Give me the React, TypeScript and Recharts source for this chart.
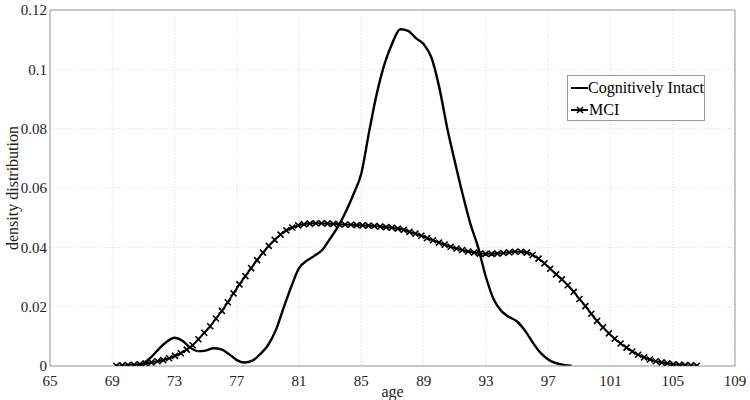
import {
  LineChart,
  Line,
  XAxis,
  YAxis,
  CartesianGrid,
  ReferenceLine,
} from "recharts";

const FONT = '"Liberation Serif", "Times New Roman", serif';

const X_TICKS = [65, 69, 73, 77, 81, 85, 89, 93, 97, 101, 105, 109];
const Y_TICKS = [0, 0.02, 0.04, 0.06, 0.08, 0.1, 0.12];

// Cognitively Intact density (solid line)
const intactAge = [
  70.5, 71, 71.5, 72, 72.5, 73, 73.5, 74, 74.5, 75, 75.5, 76, 76.5, 77, 77.5,
  78, 78.5, 79, 79.5, 80, 80.5, 81, 81.5, 82, 82.5, 83, 83.5, 84, 84.5, 85,
  85.5, 86, 86.5, 87, 87.5, 88, 88.5, 89, 89.5, 90, 90.5, 91, 91.5, 92, 92.5,
  93, 93.5, 94, 94.5, 95, 95.5, 96, 96.5, 97, 97.5, 98, 98.5,
];
const intactDensity = [
  0, 0.001, 0.003, 0.0058, 0.0082, 0.0095, 0.0085, 0.0062, 0.005, 0.0052,
  0.006, 0.0056, 0.004, 0.002, 0.0012, 0.0018, 0.004, 0.007, 0.012, 0.0195,
  0.0268, 0.033, 0.0355, 0.0372, 0.0392, 0.043, 0.047, 0.052, 0.058, 0.065,
  0.079, 0.092, 0.102, 0.109, 0.1135, 0.113, 0.1105, 0.1085, 0.104, 0.094,
  0.0806, 0.069, 0.058, 0.048, 0.04, 0.03, 0.0225, 0.0185, 0.0165, 0.015,
  0.012, 0.008, 0.0045, 0.0022, 0.001, 0.0004, 0.0001,
];

// MCI density (line with x markers)
const mciAge = [
  69.26, 69.64, 70.01, 70.39, 70.77, 71.14, 71.52, 71.9, 72.27, 72.65, 73.03,
  73.4, 73.78, 74.16, 74.53, 74.91, 75.29, 75.66, 76.04, 76.42, 76.79, 77.17,
  77.55, 77.92, 78.3, 78.68, 79.05, 79.43, 79.81, 80.18, 80.56, 80.94, 81.31,
  81.69, 82.07, 82.44, 82.82, 83.2, 83.57, 83.95, 84.33, 84.7, 85.08, 85.46,
  85.83, 86.21, 86.59, 86.96, 87.34, 87.72, 88.09, 88.47, 88.85, 89.22, 89.6,
  89.98, 90.35, 90.73, 91.11, 91.48, 91.86, 92.24, 92.61, 92.99, 93.37, 93.74,
  94.12, 94.5, 94.87, 95.25, 95.63, 96.0, 96.38, 96.76, 97.13, 97.51, 97.88,
  98.26, 98.64, 99.01, 99.39, 99.77, 100.14, 100.52, 100.9, 101.27, 101.65,
  102.03, 102.4, 102.78, 103.16, 103.53, 103.91, 104.29, 104.66, 105.04,
  105.42, 105.79, 106.17, 106.55,
];
const mciDensity = [
  0.0001, 0.0002, 0.0003, 0.0004, 0.0006, 0.0009, 0.0012, 0.0016, 0.002,
  0.0026, 0.0034, 0.0043, 0.0055, 0.007, 0.009, 0.0112, 0.0134, 0.016, 0.0186,
  0.0215, 0.0245, 0.0275, 0.0303, 0.033, 0.0357, 0.0382, 0.0405, 0.0425,
  0.0443, 0.0457, 0.0467, 0.0474, 0.0478, 0.048, 0.0481, 0.0481, 0.048, 0.0479,
  0.0478, 0.0477, 0.0476, 0.0475, 0.0474, 0.0473, 0.0472, 0.047, 0.0468,
  0.0466, 0.0463, 0.0459, 0.0452, 0.0446, 0.0439, 0.0431, 0.0424, 0.0416,
  0.0409, 0.0402, 0.0396, 0.0391, 0.0386, 0.0382, 0.0379, 0.0378, 0.0378,
  0.0379, 0.0381, 0.0383, 0.0385, 0.0385, 0.0382, 0.0374, 0.0362, 0.0346,
  0.0328, 0.0309, 0.0292, 0.0272, 0.025, 0.0226, 0.0202, 0.0176, 0.0152,
  0.013, 0.011, 0.0092, 0.0076, 0.0062, 0.0049, 0.0038, 0.0029, 0.0022,
  0.0016, 0.0012, 0.0009, 0.0006, 0.0004, 0.0003, 0.0002, 0.0001,
];

const intactData = intactAge.map((x, i) => ({ x, y: intactDensity[i] }));
const mciData = mciAge.map((x, i) => ({ x, y: mciDensity[i] }));

const XMarker = (props: any) => {
  const { cx, cy, index } = props;
  if (cx == null || cy == null) return <g key={`m-${index}`} />;
  const s = 3;
  return (
    <path
      key={`m-${index}`}
      d={`M${cx - s},${cy - s}L${cx + s},${cy + s}M${cx - s},${cy + s}L${cx + s},${cy - s}`}
      stroke="#000"
      strokeWidth={1.6}
      fill="none"
    />
  );
};

const LegendBox = () => (
  <div
    style={{
      position: "absolute",
      left: 567,
      top: 75,
      border: "1px solid #999",
      background: "#fff",
      width: 138,
      height: 46,
      fontFamily: FONT,
      fontSize: 16,
      color: "#000",
      boxSizing: "border-box",
      lineHeight: 1,
      whiteSpace: "nowrap",
    }}
  >
    <div style={{ display: "flex", alignItems: "center", height: 22, marginTop: 1 }}>
      <svg width={19} height={10} style={{ marginLeft: 2 }}>
        <line x1={1} y1={5} x2={18} y2={5} stroke="#000" strokeWidth={2} />
      </svg>
      <span>Cognitively Intact</span>
    </div>
    <div style={{ display: "flex", alignItems: "center", height: 22 }}>
      <svg width={19} height={10} style={{ marginLeft: 2 }}>
        <line x1={1} y1={5} x2={18} y2={5} stroke="#000" strokeWidth={2} />
        <path d="M7,2L13,8M7,8L13,2" stroke="#000" strokeWidth={1.6} />
      </svg>
      <span>MCI</span>
    </div>
  </div>
);

const YLabel = () => (
  <text
    x={12}
    y={188}
    transform="rotate(-90 12 188)"
    textAnchor="middle"
    dominantBaseline="central"
    style={{ fontFamily: FONT, fontSize: 16, fill: "#222" }}
  >
    density distribution
  </text>
);

const tickStyle = { fontFamily: FONT, fontSize: 15, fill: "#222" };

export default function App() {
  return (
    <div
      style={{
        position: "absolute",
        left: 0,
        top: 0,
        width: 750,
        height: 400,
        background: "#fff",
        fontFamily: FONT,
      }}
    >
      <style>{`.recharts-cartesian-axis-tick-value, .recharts-label { font-family: ${FONT}; }`}</style>
      <LineChart
        width={750}
        height={400}
        margin={{ top: 10, right: 15, bottom: 0, left: 0 }}
        style={{ fontFamily: FONT }}
      >
        <CartesianGrid stroke="#d8d8d8" strokeDasharray="1 2" />
        <XAxis
          type="number"
          dataKey="x"
          domain={[65, 109]}
          ticks={X_TICKS}
          interval={0}
          allowDataOverflow
          stroke="#999"
          tickLine={false}
          tick={tickStyle}
          tickMargin={3}
          height={34}
          label={{
            value: "age",
            position: "insideBottom",
            offset: 3,
            style: { fontFamily: FONT, fontSize: 16, fill: "#222" },
          }}
        />
        <YAxis
          type="number"
          dataKey="y"
          domain={[0, 0.12]}
          ticks={Y_TICKS}
          interval={0}
          allowDataOverflow
          stroke="#999"
          tickLine={false}
          tickSize={0}
          tick={tickStyle}
          tickMargin={3}
          width={50}
          label={<YLabel />}
        />
        <ReferenceLine y={0.12} stroke="#999" />
        <ReferenceLine x={109} stroke="#999" />
        <Line
          data={intactData}
          dataKey="y"
          name="Cognitively Intact"
          type="monotone"
          stroke="#000"
          strokeWidth={2.4}
          dot={false}
          activeDot={false}
          isAnimationActive={false}
        />
        <Line
          data={mciData}
          dataKey="y"
          name="MCI"
          type="monotone"
          stroke="#000"
          strokeWidth={2}
          dot={XMarker}
          activeDot={false}
          isAnimationActive={false}
        />
      </LineChart>
      <LegendBox />
    </div>
  );
}
